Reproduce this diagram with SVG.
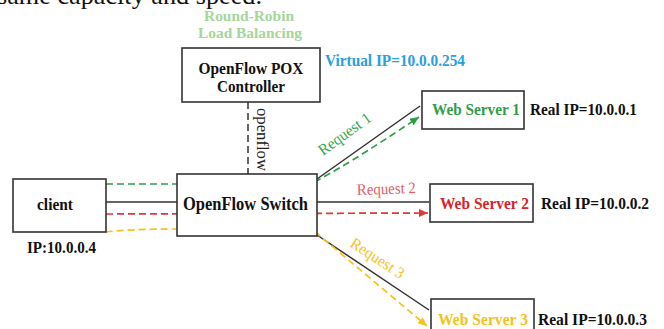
<svg xmlns="http://www.w3.org/2000/svg" width="664" height="329" viewBox="0 0 664 329">
  <style>
    .box { fill: #ffffff; stroke: #333333; stroke-width: 1.6; }
    .lbl { font-family: "Liberation Serif", "Times New Roman", serif; font-weight: bold; }
    .link { fill: none; stroke: #333333; stroke-width: 1.5; }
    .dash { fill: none; stroke-width: 1.7; stroke-dasharray: 7 4; }
    .req { font-family: "Liberation Serif", "Times New Roman", serif; font-size: 16px; }
  </style>
  <defs>
    <marker id="arrowGreen" markerUnits="userSpaceOnUse" markerWidth="10" markerHeight="9" refX="9" refY="4" orient="auto">
      <path d="M0,0 L9,4 L0,8 z" fill="#2e9e48"/>
    </marker>
    <marker id="arrowRed" markerUnits="userSpaceOnUse" markerWidth="10" markerHeight="9" refX="9" refY="4" orient="auto">
      <path d="M0,0 L9,4 L0,8 z" fill="#e2343a"/>
    </marker>
    <marker id="arrowYellow" markerUnits="userSpaceOnUse" markerWidth="10" markerHeight="9" refX="9" refY="4" orient="auto">
      <path d="M0,0 L9,4 L0,8 z" fill="#f7c21a"/>
    </marker>
  </defs>

  <rect width="664" height="329" fill="#ffffff"/>

  <!-- end of the preceding paragraph -->
  <text x="-3" y="4" font-family="Liberation Serif, Times New Roman, serif" font-size="26" fill="#111111" textLength="265" lengthAdjust="spacingAndGlyphs">same capacity and speed.</text>

  <!-- policy caption -->
  <text class="lbl" x="249" y="20.5" font-size="15.5" fill="#a6d69c" text-anchor="middle" textLength="90" lengthAdjust="spacingAndGlyphs">Round-Robin</text>
  <text class="lbl" x="250" y="38" font-size="15.5" fill="#a6d69c" text-anchor="middle" textLength="104" lengthAdjust="spacingAndGlyphs">Load Balancing</text>
  <text class="lbl" x="325" y="66" font-size="16.5" fill="#2aa0e0" textLength="140" lengthAdjust="spacingAndGlyphs">Virtual IP=10.0.0.254</text>

  <!-- connectors -->
  <g id="connectors">
    <line class="link" x1="106" y1="202" x2="177" y2="202"/>
    <line x1="248" y1="102" x2="248" y2="174" stroke="#333333" stroke-width="1.5" stroke-dasharray="7 4"/>
    <line class="link" x1="317" y1="179" x2="420" y2="106"/>
    <line class="link" x1="317" y1="202" x2="429" y2="202"/>
    <line class="link" x1="317" y1="235" x2="429" y2="310"/>

    <path class="dash" stroke="#2e9e48" d="M106,184 L310,184 Q340,170 419,117" marker-end="url(#arrowGreen)"/>
    <path class="dash" stroke="#e2343a" d="M106,214 L428,213" marker-end="url(#arrowRed)"/>
    <path class="dash" stroke="#f7c21a" d="M106,232 Q130,229 177,229 L310,230 Q316,231 320,236 L427,326" marker-end="url(#arrowYellow)"/>

    <text x="257" y="108" font-family="Liberation Serif, Times New Roman, serif" font-size="16" fill="#222222" transform="rotate(90 257 108)" textLength="63" lengthAdjust="spacingAndGlyphs">openflow</text>
    <text class="req" x="323" y="156" fill="#34a852" transform="rotate(-36 323 156)" textLength="61" lengthAdjust="spacingAndGlyphs">Request 1</text>
    <text class="req" x="357" y="195" fill="#e0606a" transform="rotate(-2 357 195)" textLength="59" lengthAdjust="spacingAndGlyphs">Request 2</text>
    <text class="req" x="349" y="246" fill="#f5c21c" transform="rotate(33 349 246)" textLength="61" lengthAdjust="spacingAndGlyphs">Request 3</text>
  </g>

  <g id="controller">
    <rect class="box" x="182" y="48" width="138" height="54"/>
    <text class="lbl" x="251" y="74" font-size="17" fill="#111111" text-anchor="middle" textLength="105" lengthAdjust="spacingAndGlyphs">OpenFlow POX</text>
    <text class="lbl" x="251" y="92" font-size="17" fill="#111111" text-anchor="middle" textLength="68" lengthAdjust="spacingAndGlyphs">Controller</text>
  </g>

  <g id="client">
    <rect class="box" x="13" y="179" width="93" height="53"/>
    <text class="lbl" x="55" y="210" font-size="17" fill="#111111" text-anchor="middle" textLength="36" lengthAdjust="spacingAndGlyphs">client</text>
    <text class="lbl" x="27" y="253" font-size="16" fill="#111111" textLength="69" lengthAdjust="spacingAndGlyphs">IP:10.0.0.4</text>
  </g>

  <g id="switch">
    <rect class="box" x="177" y="174" width="140" height="62"/>
    <text class="lbl" x="245.5" y="210" font-size="18" fill="#111111" text-anchor="middle" textLength="125" lengthAdjust="spacingAndGlyphs">OpenFlow Switch</text>
  </g>

  <g id="server1">
    <rect class="box" x="422" y="91" width="102" height="38"/>
    <text class="lbl" x="432" y="115" font-size="16.5" fill="#2e9e48" textLength="88" lengthAdjust="spacingAndGlyphs">Web Server 1</text>
    <text class="lbl" x="530" y="115" font-size="16.5" fill="#111111" textLength="107" lengthAdjust="spacingAndGlyphs">Real IP=10.0.0.1</text>
  </g>

  <g id="server2">
    <rect class="box" x="430" y="184" width="103" height="38"/>
    <text class="lbl" x="440" y="209" font-size="16.5" fill="#d8232b" textLength="89" lengthAdjust="spacingAndGlyphs">Web Server 2</text>
    <text class="lbl" x="541" y="209" font-size="16.5" fill="#111111" textLength="108" lengthAdjust="spacingAndGlyphs">Real IP=10.0.0.2</text>
  </g>

  <g id="server3">
    <rect class="box" x="431" y="299" width="103" height="40"/>
    <text class="lbl" x="438" y="325" font-size="16.5" fill="#f5c21c" textLength="90" lengthAdjust="spacingAndGlyphs">Web Server 3</text>
    <text class="lbl" x="538" y="325" font-size="16.5" fill="#111111" textLength="109" lengthAdjust="spacingAndGlyphs">Real IP=10.0.0.3</text>
  </g>
</svg>
